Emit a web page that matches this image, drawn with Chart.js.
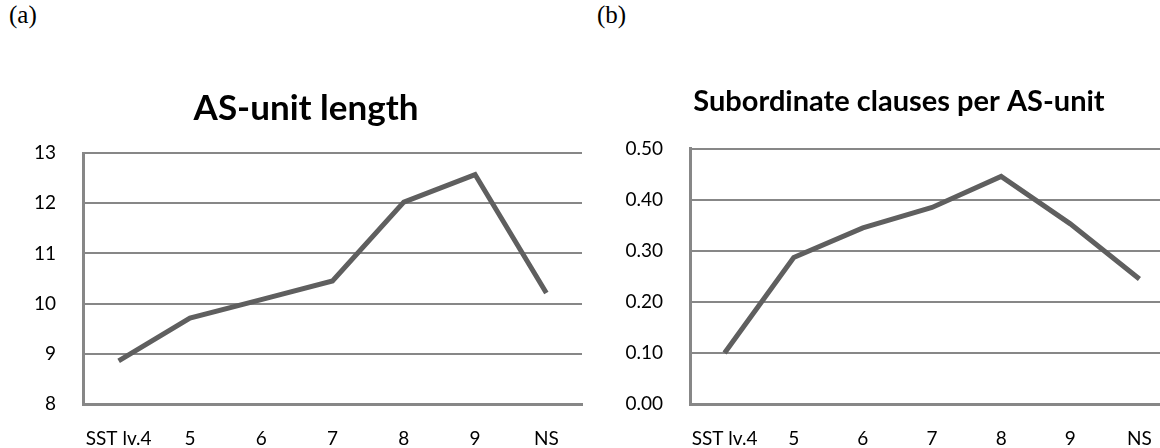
<!DOCTYPE html>
<html>
<head>
<meta charset="utf-8">
<script src="https://cdn.jsdelivr.net/npm/chart.js@4.4.1/dist/chart.umd.min.js"></script>
<style>
  html, body { margin: 0; padding: 0; background: #fff; overflow: hidden; }
  body { width: 1160px; height: 448px; position: relative; }
  .panel-tag { position: absolute; top: 1px; font: 25px "Liberation Serif", serif; color: #000; }
  .box { position: absolute; top: 0; height: 448px; }
</style>
</head>
<body>
<div class="panel-tag" style="left:9px">(a)</div>
<div class="panel-tag" style="left:597px">(b)</div>
<div class="box" style="left:0; width:616px"><canvas id="lengthChart"></canvas></div>
<div class="box" style="left:580px; width:630px"><canvas id="clauseChart"></canvas></div>
<script>
// ====== Data ======
const categories = ['SST lv.4', '5', '6', '7', '8', '9', 'NS'];
const asUnitLength = [8.86, 9.71, 10.08, 10.45, 12.02, 12.57, 10.21];
const subClauses = [0.10, 0.287, 0.345, 0.385, 0.446, 0.353, 0.245];
const lengthTicks = [8, 9, 10, 11, 12, 13];
const clauseTicks = [0, 0.1, 0.2, 0.3, 0.4, 0.5];

const gridGray = '#878787';
const lineGray = '#5f5f5f';
const tickFont = { family: 'Lato', size: 19 };

function makeChart(id, values, ticks, opts) {
  const ctx = document.getElementById(id).getContext('2d');
  return new Chart(ctx, {
    type: 'line',
    data: {
      labels: categories,
      datasets: [{
        data: values,
        borderColor: lineGray,
        borderWidth: 5,
        pointRadius: 0,
        tension: 0,
        fill: false
      }]
    },
    options: {
      responsive: false,
      animation: false,
      layout: { padding: { left: opts.padLeft, right: opts.padRight, top: 0, bottom: 0 } },
      plugins: {
        legend: { display: false },
        tooltip: { enabled: false },
        title: {
          display: true,
          text: opts.title,
          color: '#000',
          font: { family: 'Lato', size: opts.titleSize, weight: 'bold' },
          padding: { top: opts.titleTop, bottom: opts.titleBottom }
        }
      },
      scales: {
        x: {
          offset: true,
          grid: { display: false, drawTicks: false, tickLength: 0 },
          border: { display: true, color: gridGray, width: 3 },
          ticks: { color: '#000', font: tickFont, padding: 23, maxRotation: 0, autoSkip: false },
          afterFit: s => { s.height = 44; }
        },
        y: {
          min: ticks[0],
          max: ticks[ticks.length - 1],
          grid: { color: gridGray, lineWidth: 2, drawTicks: false, tickLength: 0 },
          border: { display: true, color: gridGray, width: 3 },
          ticks: {
            stepSize: ticks[1] - ticks[0],
            color: '#000',
            font: tickFont,
            padding: 27,
            callback: v => v.toFixed(opts.decimals)
          },
          afterFit: s => { s.width = opts.axisWidth; }
        }
      }
    }
  });
}

function sizeCanvas(id, w, h) {
  const c = document.getElementById(id);
  c.width = w; c.height = h;
  c.style.width = w + 'px'; c.style.height = h + 'px';
}

sizeCanvas('lengthChart', 616, 448);
sizeCanvas('clauseChart', 630, 448);

// title centred over padLeft .. plot right; plot left = padLeft + axisWidth
makeChart('lengthChart', asUnitLength, lengthTicks, {
  title: 'AS-unit length', titleSize: 35, titleTop: 88, titleBottom: 23,
  padLeft: 30, padRight: 34, axisWidth: 53, decimals: 0
});

makeChart('clauseChart', subClauses, clauseTicks, {
  title: 'Subordinate clauses per AS-unit', titleSize: 29, titleTop: 84, titleBottom: 30,
  padLeft: 44, padRight: 36, axisWidth: 66, decimals: 2
});
</script>
</body>
</html>
